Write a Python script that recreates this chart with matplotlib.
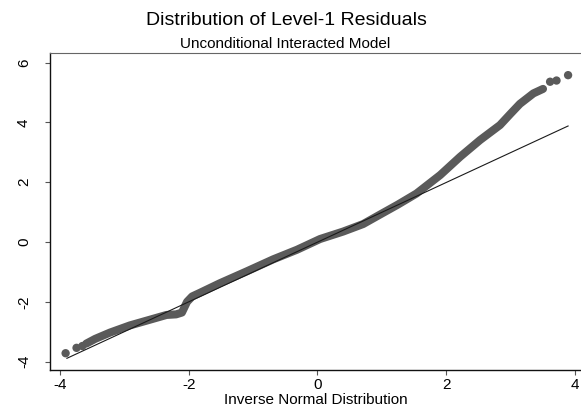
import matplotlib
matplotlib.use("Agg")
import matplotlib.pyplot as plt

plt.rcParams["font.family"] = ["Liberation Sans", "DejaVu Sans"]
plt.rcParams["axes.unicode_minus"] = False

# isolated points in the tails
tail_x = [-3.92, -3.75, -3.66, 3.62, 3.72, 3.90]
tail_y = [-3.72, -3.54, -3.48, 5.36, 5.40, 5.58]

# dense body of the residual quantiles
band_x = [-3.60, -3.46, -3.23, -2.92, -2.61, -2.35, -2.20, -2.11, -2.03, -1.95,
          -1.83, -1.52, -1.10, -0.69, -0.32, 0.04, 0.40, 0.71, 1.00, 1.25,
          1.54, 1.91, 2.22, 2.53, 2.84, 3.00, 3.15, 3.36, 3.51]
band_y = [-3.40, -3.24, -3.03, -2.79, -2.60, -2.44, -2.42, -2.36, -2.00, -1.82,
          -1.70, -1.38, -0.98, -0.58, -0.26, 0.10, 0.35, 0.60, 0.95, 1.25,
          1.62, 2.24, 2.85, 3.41, 3.91, 4.28, 4.62, 4.97, 5.12]

# reference normal line
ref_x = [-3.90, 3.90]
ref_y = [-3.89, 3.88]

x_ticks = [-4, -2, 0, 2, 4]
y_ticks = [-4, -2, 0, 2, 4, 6]

fig = plt.figure(figsize=(5.81, 4.18), dpi=100)
ax = fig.add_axes([50 / 581, 48 / 418, 531 / 581, 317 / 418])

dot_color = "#5a5a5a"
ax.plot(band_x, band_y, color=dot_color, lw=5.8, solid_capstyle="round",
        solid_joinstyle="round", zorder=2)
ax.scatter(tail_x, tail_y, s=36, color=dot_color, edgecolors="none", zorder=2)
ax.plot(ref_x, ref_y, color="#1a1a1a", lw=0.8, zorder=3)

ax.set_xlim(-4.163, 4.101)
ax.set_ylim(-4.281, 6.321)
ax.set_xticks(x_ticks)
ax.set_yticks(y_ticks)
ax.set_xticklabels([str(t) for t in x_ticks], fontsize=11)
ax.set_yticklabels([str(t) for t in y_ticks], fontsize=11, rotation=90, va="center")
ax.tick_params(axis="both", direction="out", length=3.6, width=0.8, color="#555555")
ax.tick_params(axis="x", pad=2)
ax.tick_params(axis="y", pad=10)

ax.spines["right"].set_visible(False)
ax.spines["top"].set_color("#666666")
ax.spines["top"].set_linewidth(0.8)
for s in ("left", "bottom"):
    ax.spines[s].set_color("#111111")
    ax.spines[s].set_linewidth(1.0)

ax.set_xlabel("Inverse Normal Distribution", fontsize=11, labelpad=1)

fig.text(0.493, 1 - 25 / 418, "Distribution of Level-1 Residuals",
         ha="center", va="baseline", fontsize=14)
fig.text(0.490, 1 - 48 / 418, "Unconditional Interacted Model",
         ha="center", va="baseline", fontsize=11)

fig.savefig("out.png", dpi=100)
